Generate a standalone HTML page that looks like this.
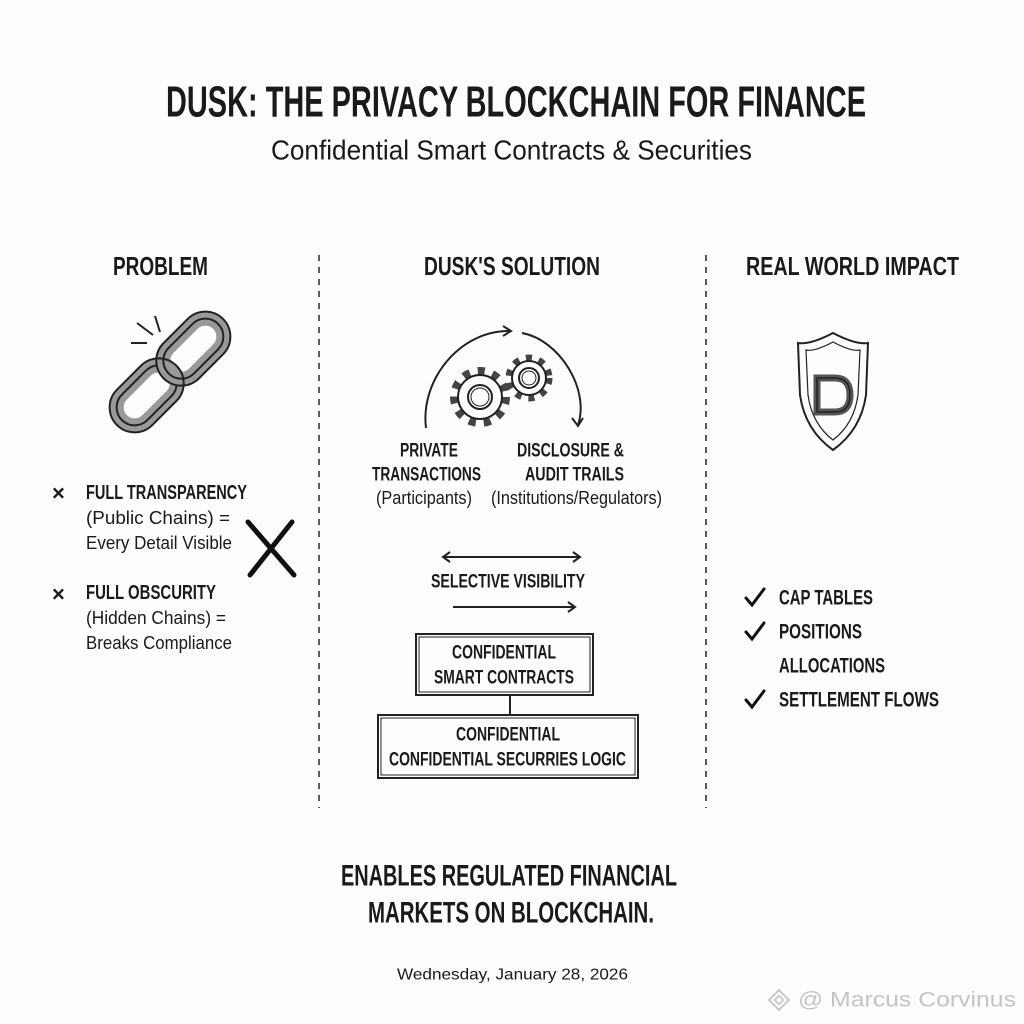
<!DOCTYPE html>
<html><head><meta charset="utf-8"><style>
html,body{margin:0;padding:0;background:#fdfdfc;}
svg{display:block}
text{font-family:"Liberation Sans",sans-serif;fill:#1a1a1a}
.c{font-family:"Liberation Sans Narrow","Liberation Sans",sans-serif}
.b{font-weight:bold}
</style></head><body>
<svg width="1024" height="1024" viewBox="0 0 1024 1024" xmlns="http://www.w3.org/2000/svg">
<rect width="1024" height="1024" fill="#fdfdfc"/>
<g dominant-baseline="central">
<text class="c" x="166" y="102" font-size="44" font-weight="bold" textLength="700" lengthAdjust="spacingAndGlyphs">DUSK: THE PRIVACY BLOCKCHAIN FOR FINANCE</text>
<text class="c" x="271" y="150" font-size="28" textLength="481" lengthAdjust="spacingAndGlyphs">Confidential Smart Contracts &amp; Securities</text>

<text class="c b" x="113" y="266" font-size="26" textLength="95" lengthAdjust="spacingAndGlyphs">PROBLEM</text>
<text class="c b" x="424" y="266" font-size="26" textLength="176" lengthAdjust="spacingAndGlyphs">DUSK'S SOLUTION</text>
<text class="c b" x="746" y="266" font-size="26" textLength="213" lengthAdjust="spacingAndGlyphs">REAL WORLD IMPACT</text>

<text class="c b" x="52" y="493" font-size="22">×</text>
<text class="c b" x="86" y="493" font-size="20" textLength="161" lengthAdjust="spacingAndGlyphs">FULL TRANSPARENCY</text>
<text class="c" x="86" y="518" font-size="18" textLength="144" lengthAdjust="spacingAndGlyphs">(Public Chains) =</text>
<text class="c" x="86" y="543" font-size="18" textLength="146" lengthAdjust="spacingAndGlyphs">Every Detail Visible</text>
<text class="c b" x="52" y="594" font-size="22">×</text>
<text class="c b" x="86" y="593" font-size="20" textLength="130" lengthAdjust="spacingAndGlyphs">FULL OBSCURITY</text>
<text class="c" x="86" y="618" font-size="18" textLength="140" lengthAdjust="spacingAndGlyphs">(Hidden Chains) =</text>
<text class="c" x="86" y="643" font-size="18" textLength="146" lengthAdjust="spacingAndGlyphs">Breaks Compliance</text>

<text class="c b" x="400" y="451" font-size="19" textLength="58" lengthAdjust="spacingAndGlyphs">PRIVATE</text>
<text class="c b" x="372" y="475" font-size="19" textLength="109" lengthAdjust="spacingAndGlyphs">TRANSACTIONS</text>
<text class="c" x="376" y="498" font-size="18" textLength="96" lengthAdjust="spacingAndGlyphs">(Participants)</text>
<text class="c b" x="517" y="451" font-size="19" textLength="107" lengthAdjust="spacingAndGlyphs">DISCLOSURE &amp;</text>
<text class="c b" x="525" y="475" font-size="19" textLength="99" lengthAdjust="spacingAndGlyphs">AUDIT TRAILS</text>
<text class="c" x="491" y="498" font-size="18" textLength="171" lengthAdjust="spacingAndGlyphs">(Institutions/Regulators)</text>

<text class="c b" x="431" y="582" font-size="19" textLength="154" lengthAdjust="spacingAndGlyphs">SELECTIVE VISIBILITY</text>
<text class="c b" x="452" y="653" font-size="19" textLength="104" lengthAdjust="spacingAndGlyphs">CONFIDENTIAL</text>
<text class="c b" x="434" y="678" font-size="19" textLength="140" lengthAdjust="spacingAndGlyphs">SMART CONTRACTS</text>
<text class="c b" x="456" y="735" font-size="19" textLength="104" lengthAdjust="spacingAndGlyphs">CONFIDENTIAL</text>
<text class="c b" x="389" y="760" font-size="19" textLength="237" lengthAdjust="spacingAndGlyphs">CONFIDENTIAL SECURRIES LOGIC</text>

<text class="c b" x="779" y="598" font-size="21" textLength="94" lengthAdjust="spacingAndGlyphs">CAP TABLES</text>
<text class="c b" x="779" y="632" font-size="21" textLength="83" lengthAdjust="spacingAndGlyphs">POSITIONS</text>
<text class="c b" x="779" y="666" font-size="21" textLength="106" lengthAdjust="spacingAndGlyphs">ALLOCATIONS</text>
<text class="c b" x="779" y="700" font-size="21" textLength="160" lengthAdjust="spacingAndGlyphs">SETTLEMENT FLOWS</text>

<text class="c b" x="341" y="876" font-size="30" textLength="336" lengthAdjust="spacingAndGlyphs">ENABLES REGULATED FINANCIAL</text>
<text class="c b" x="368" y="913" font-size="30" textLength="286" lengthAdjust="spacingAndGlyphs">MARKETS ON BLOCKCHAIN.</text>
<text x="397" y="975" font-size="16" textLength="231" lengthAdjust="spacingAndGlyphs">Wednesday, January 28, 2026</text>
<text x="798" y="1000" font-size="21" style="fill:#c4c4c4" textLength="218" lengthAdjust="spacingAndGlyphs">@ Marcus Corvinus</text>
</g>
<g transform="translate(779,1000) rotate(45)" fill="none" stroke="#c8c8c8" stroke-width="2"><rect x="-7" y="-7" width="14" height="14"/><rect x="-3" y="-3" width="6" height="6"/></g>

<g stroke="#333" stroke-width="1.6" stroke-dasharray="6,6"><line x1="319" y1="255" x2="319" y2="808"/><line x1="706" y1="255" x2="706" y2="808"/></g>

<!-- chain -->
<g transform="translate(170,372) rotate(-45)" fill="none" stroke="#222">
<rect x="-68" y="-18" width="70" height="36" rx="18" stroke-width="14" stroke="#999"/>
<rect x="-68" y="-18" width="70" height="36" rx="18" stroke-width="2"/>
<rect x="-2" y="-18" width="70" height="36" rx="18" stroke-width="14" stroke="#999"/>
<rect x="-2" y="-18" width="70" height="36" rx="18" stroke-width="2"/>
<rect x="-75" y="-25" width="84" height="50" rx="25" stroke-width="2"/>
<rect x="-9" y="-25" width="84" height="50" rx="25" stroke-width="2"/>
</g>
<g stroke="#222" stroke-width="2"><line x1="137" y1="323" x2="153" y2="335"/><line x1="155" y1="316" x2="160" y2="332"/><line x1="131" y1="343" x2="147" y2="343"/></g>
<g stroke="#111" stroke-width="5" stroke-linecap="round"><line x1="248" y1="522" x2="294" y2="575"/><line x1="292" y1="522" x2="250" y2="575"/></g>

<!-- gears -->
<g fill="none" stroke="#222" stroke-width="2">
<circle cx="480" cy="397" r="26" stroke-dasharray="7,8" stroke-width="8" stroke="#444"/>
<circle cx="480" cy="397" r="22" fill="#fdfdfc"/><circle cx="480" cy="397" r="12"/><circle cx="480" cy="397" r="9" stroke-width="1"/>
<circle cx="529" cy="378" r="20" stroke-dasharray="6,7" stroke-width="7" stroke="#444"/>
<circle cx="529" cy="378" r="17" fill="#fdfdfc"/><circle cx="529" cy="378" r="10"/><circle cx="529" cy="378" r="7" stroke-width="1"/>
<path d="M426 428 C420 380 460 330 510 331"/><path d="M503 326 L511 331 L503 336"/>
<path d="M522 333 C560 340 590 390 578 425"/><path d="M572 418 L578 426 L583 418"/>
<line x1="443" y1="557" x2="580" y2="557"/><path d="M450 552 L443 557 L450 562 M573 552 L580 557 L573 562"/>
<line x1="453" y1="607" x2="575" y2="607"/><path d="M568 602 L575 607 L568 612"/>
<rect x="416" y="634" width="177" height="61"/><rect x="419" y="637" width="171" height="55" stroke-width="1"/>
<line x1="510" y1="695" x2="510" y2="715"/>
<rect x="378" y="715" width="260" height="63"/><rect x="381" y="718" width="254" height="57" stroke-width="1"/>
</g>

<!-- shield -->
<g fill="none" stroke="#222" stroke-width="2">
<path d="M833 333 Q810 345 798 343 L800 395 Q805 430 833 450 Q861 430 866 395 L868 343 Q856 345 833 333 Z"/>
<path d="M833 342 Q814 352 806 350 L808 395 Q812 424 833 440 Q854 424 858 395 L860 350 Q852 352 833 342 Z" stroke-width="1.2"/>
<path d="M817 378 L817 412 L835 412 Q850 412 850 395 Q850 378 835 378 Z" stroke-width="7" stroke="#555"/>
<path d="M817 378 L817 412 L835 412 Q850 412 850 395 Q850 378 835 378 Z" stroke-width="1.5"/>
</g>
<g fill="none" stroke="#111" stroke-width="3" stroke-linecap="round">
<path d="M746 598 L752 605 L764 589"/><path d="M746 632 L752 639 L764 623"/><path d="M746 700 L752 707 L764 691"/>
</g>
</svg>
</body></html>
